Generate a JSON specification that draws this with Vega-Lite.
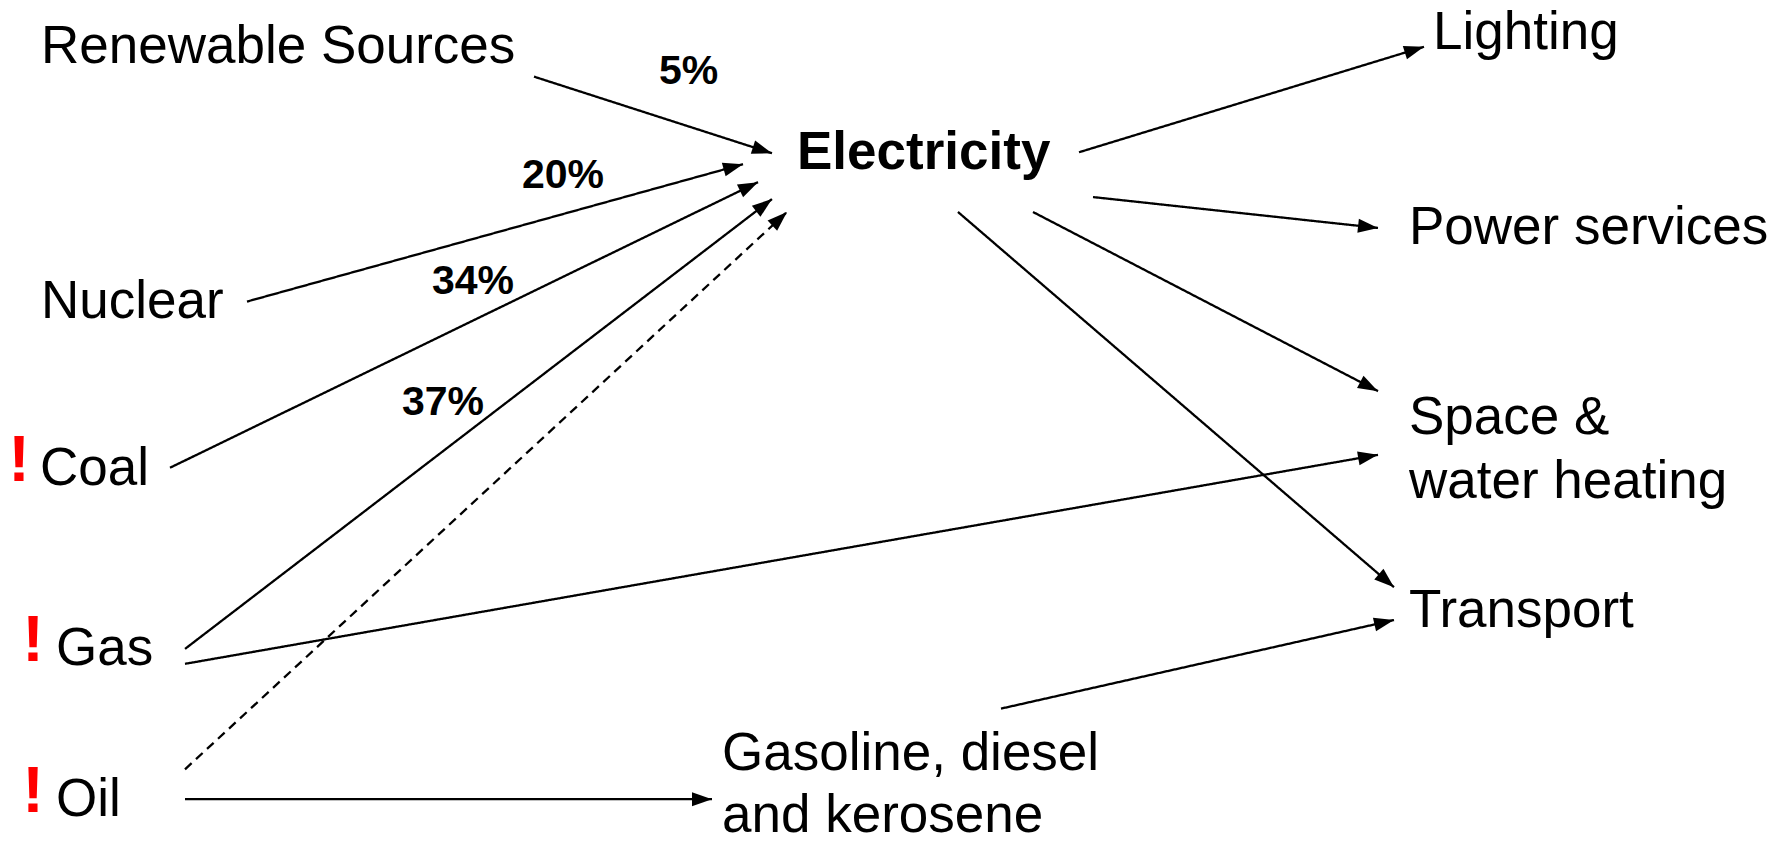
{
  "$schema": "https://vega.github.io/schema/vega-lite/v6.json",
  "width": 1783,
  "height": 843,
  "autosize": {"type": "fit", "contains": "padding"},
  "padding": 0,
  "background": "white",
  "config": {"view": {"stroke": null}},
  "datasets": {
    "edges": [
      {"from": "Renewable Sources", "to": "Electricity", "x1": 534, "y1": 77, "x2": 772, "y2": 154, "style": "solid"},
      {"from": "Nuclear", "to": "Electricity", "x1": 247, "y1": 303, "x2": 743, "y2": 165, "style": "solid"},
      {"from": "Coal", "to": "Electricity", "x1": 170, "y1": 470, "x2": 758, "y2": 183, "style": "solid"},
      {"from": "Gas", "to": "Electricity", "x1": 185, "y1": 652, "x2": 772, "y2": 200, "style": "solid"},
      {"from": "Oil", "to": "Electricity", "x1": 185, "y1": 773, "x2": 787, "y2": 213, "style": "dashed"},
      {"from": "Gas", "to": "Space & water heating", "x1": 185, "y1": 667, "x2": 1378, "y2": 457, "style": "solid"},
      {"from": "Oil", "to": "Gasoline, diesel and kerosene", "x1": 185, "y1": 803, "x2": 712, "y2": 803, "style": "solid"},
      {"from": "Gasoline, diesel and kerosene", "to": "Transport", "x1": 1001, "y1": 712, "x2": 1394, "y2": 623, "style": "solid"},
      {"from": "Electricity", "to": "Transport", "x1": 958, "y1": 213, "x2": 1394, "y2": 590, "style": "solid"},
      {"from": "Electricity", "to": "Space & water heating", "x1": 1033, "y1": 213, "x2": 1378, "y2": 393, "style": "solid"},
      {"from": "Electricity", "to": "Power services", "x1": 1093, "y1": 198, "x2": 1378, "y2": 229, "style": "solid"},
      {"from": "Electricity", "to": "Lighting", "x1": 1079, "y1": 153, "x2": 1424, "y2": 47, "style": "solid"}
    ],
    "labels": [
      {"label": "Renewable Sources", "x": 41, "y": 63, "kind": "node"},
      {"label": "Nuclear", "x": 41, "y": 320, "kind": "node"},
      {"label": "Coal", "x": 40, "y": 487, "kind": "node"},
      {"label": "Gas", "x": 56, "y": 668, "kind": "node"},
      {"label": "Oil", "x": 56, "y": 820, "kind": "node"},
      {"label": "Lighting", "x": 1433, "y": 49, "kind": "node"},
      {"label": "Power services", "x": 1409, "y": 245, "kind": "node"},
      {"label": "Space &", "x": 1409, "y": 436, "kind": "node"},
      {"label": "water heating", "x": 1409, "y": 500, "kind": "node"},
      {"label": "Transport", "x": 1409, "y": 630, "kind": "node"},
      {"label": "Gasoline, diesel", "x": 722, "y": 774, "kind": "node"},
      {"label": "and kerosene", "x": 722, "y": 836, "kind": "node"},
      {"label": "Electricity", "x": 797, "y": 170, "kind": "hub"},
      {"label": "5%", "x": 659, "y": 84, "kind": "pct"},
      {"label": "20%", "x": 522, "y": 189, "kind": "pct"},
      {"label": "34%", "x": 432, "y": 295, "kind": "pct"},
      {"label": "37%", "x": 402, "y": 417, "kind": "pct"},
      {"label": "!", "x": 19, "y": 483, "kind": "alert"},
      {"label": "!", "x": 33, "y": 664, "kind": "alert"},
      {"label": "!", "x": 33, "y": 816, "kind": "alert"}
    ]
  },
  "layer": [
    {
      "data": {"name": "edges"},
      "mark": {"type": "rule", "color": "black", "strokeWidth": 2.3},
      "encoding": {
        "x": {"field": "x1", "type": "quantitative", "scale": {"domain": [0, 1783], "nice": false, "zero": false}, "axis": null},
        "y": {"field": "y1", "type": "quantitative", "scale": {"domain": [0, 843], "nice": false, "zero": false, "reverse": true}, "axis": null},
        "x2": {"field": "x2"},
        "y2": {"field": "y2"},
        "strokeDash": {"field": "style", "type": "nominal", "scale": {"domain": ["solid", "dashed"], "range": [[1, 0], [9, 6]]}, "legend": null}
      }
    },
    {
      "data": {"name": "edges"},
      "transform": [{"calculate": "atan2(datum.y2 - datum.y1, datum.x2 - datum.x1) * 180 / PI", "as": "angle"}],
      "mark": {"type": "point", "shape": "M0,0L-4,-1.4L-4,1.4Z", "filled": true, "color": "black", "size": 100, "opacity": 1, "strokeWidth": 0},
      "encoding": {
        "x": {"field": "x2", "type": "quantitative", "axis": null},
        "y": {"field": "y2", "type": "quantitative", "axis": null},
        "angle": {"field": "angle", "type": "quantitative", "scale": null}
      }
    },
    {
      "data": {"name": "labels"},
      "transform": [{"filter": "datum.kind === 'node'"}],
      "mark": {"type": "text", "align": "left", "baseline": "alphabetic", "font": "Liberation Sans", "fontSize": 53, "color": "black"},
      "encoding": {
        "x": {"field": "x", "type": "quantitative", "axis": null},
        "y": {"field": "y", "type": "quantitative", "axis": null},
        "text": {"field": "label"}
      }
    },
    {
      "data": {"name": "labels"},
      "transform": [{"filter": "datum.kind === 'hub'"}],
      "mark": {"type": "text", "align": "left", "baseline": "alphabetic", "font": "Liberation Sans", "fontSize": 53, "fontWeight": "bold", "color": "black"},
      "encoding": {
        "x": {"field": "x", "type": "quantitative", "axis": null},
        "y": {"field": "y", "type": "quantitative", "axis": null},
        "text": {"field": "label"}
      }
    },
    {
      "data": {"name": "labels"},
      "transform": [{"filter": "datum.kind === 'pct'"}],
      "mark": {"type": "text", "align": "left", "baseline": "alphabetic", "font": "Liberation Sans", "fontSize": 41, "fontWeight": "bold", "color": "black"},
      "encoding": {
        "x": {"field": "x", "type": "quantitative", "axis": null},
        "y": {"field": "y", "type": "quantitative", "axis": null},
        "text": {"field": "label"}
      }
    },
    {
      "data": {"name": "labels"},
      "transform": [{"filter": "datum.kind === 'alert'"}],
      "mark": {"type": "text", "align": "center", "baseline": "alphabetic", "font": "Liberation Sans", "fontSize": 65, "fontWeight": "bold", "color": "#FF0000"},
      "encoding": {
        "x": {"field": "x", "type": "quantitative", "axis": null},
        "y": {"field": "y", "type": "quantitative", "axis": null},
        "text": {"field": "label"}
      }
    }
  ]
}
